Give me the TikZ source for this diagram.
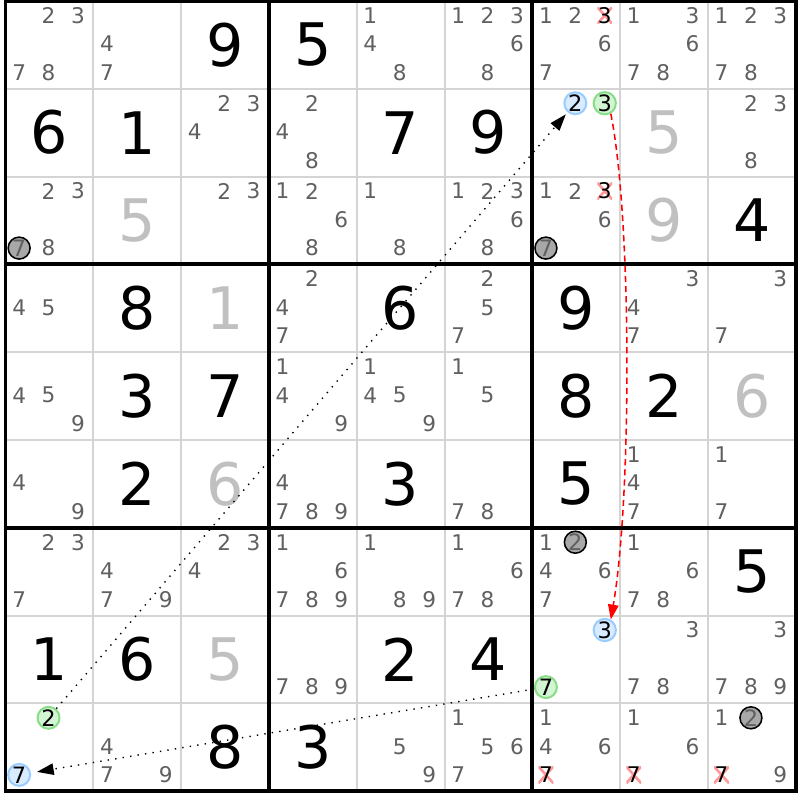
\documentclass[tikz,border=0pt]{standalone}
\usepackage{fontspec}
\setmainfont{DejaVu Sans}
\usetikzlibrary{arrows.meta}
\definecolor{candgray}{HTML}{606060}
\definecolor{placedgray}{HTML}{C0C0C0}
\definecolor{gridgray}{HTML}{D4D4D4}
\definecolor{ringblue}{HTML}{99CCFF}
\definecolor{fillblue}{HTML}{D8EBFF}
\definecolor{ringgreen}{HTML}{88DD88}
\definecolor{fillgreen}{HTML}{D4F5D4}
\definecolor{fillgray}{HTML}{A8A8A8}
\definecolor{crossred}{HTML}{FF9999}
% centre of candidate #3 in row #1, column #2
\newcommand{\candxy}[3]{%
  \pgfmathsetmacro\cx{#2-0.845+0.335*mod(#3-1,3)}%
  \pgfmathsetmacro\cy{9.835-#1-0.325*floor((#3-1)/3)}%
}
\tikzset{
  cand/.style={ % image of a pencil-mark candidate
    inner sep=0pt, text=candgray,
    font=\fontsize{7}{7}\selectfont
  },
  given/.style={ % image of a given digit
    inner sep=0pt, text=black,
    font=\fontsize{19}{19}\selectfont
  },
  placed/.style={given, text=placedgray},
  ring/.style={ % image of a circled candidate
    circle, inner sep=0pt, minimum size=0.25cm,
    line width=0.65pt, font=\fontsize{7.3}{7.3}\selectfont
  },
  bluering/.style={ring, draw=ringblue, fill=fillblue, text=black},
  greenring/.style={ring, draw=ringgreen, fill=fillgreen, text=black},
  grayring/.style={ring, draw=black, fill=fillgray, text=candgray, line width=0.5pt},
  struck/.style={ % image of an eliminated candidate
    cand, text=black, minimum width=0.17cm, minimum height=0.19cm,
    path picture = {
      \draw[crossred, line width=0.85pt]
      (path picture bounding box.north west) --
      (path picture bounding box.south east)
      (path picture bounding box.south west) --
      (path picture bounding box.north east);
    }
  },
  thinline/.style={gridgray, line width=0.65pt},
  thickline/.style={black, line width=1.2pt, line cap=rect},
  weaklink/.style={dotted, line width=0.45pt, shorten >=0.3mm,
    -{Triangle[length=1.9mm,width=1.3mm]}},
  stronglink/.style={red, line width=0.5pt, dash pattern=on 2pt off 1.3pt,
    -{Triangle[length=1.7mm,width=1.2mm]}}
}
\begin{document}
\begin{tikzpicture}
    \fill[white] (-0.063,-0.1) rectangle (9.049,9.011);
    \useasboundingbox (-0.063,-0.1) rectangle (9.049,9.011);

    % grid
    \foreach \i in {1,2,4,5,7,8} {
      \draw[thinline] (\i,0) -- (\i,9);
      \draw[thinline] (0,\i) -- (9,\i);
    }
    \foreach \i in {3,6} {
      \draw[thickline] (\i,0) -- (\i,9);
      \draw[thickline] (0,\i) -- (9,\i);
    }
    \draw[thickline] (0,0) rectangle (9,9);

    % digits
    \foreach \r/\c/\d in {1/3/9, 1/4/5, 2/1/6, 2/2/1, 2/5/7, 2/6/9, 3/9/4,
        4/2/8, 4/5/6, 4/7/9, 5/2/3, 5/3/7, 5/7/8, 5/8/2, 6/2/2, 6/5/3,
        6/7/5, 7/9/5, 8/1/1, 8/2/6, 8/5/2, 8/6/4, 9/3/8, 9/4/3}
      \node[given] (g\r\c) at (\c-0.5,9.5-\r) {\d};
    \foreach \r/\c/\d in {2/8/5, 3/2/5, 3/8/9, 4/3/1, 5/9/6, 6/3/6, 8/3/5}
      \node[placed] (g\r\c) at (\c-0.5,9.5-\r) {\d};

    % candidates
    \foreach \r/\c/\ds in {1/1/{2,3,7,8}, 1/2/{4,7}, 1/5/{1,4,8},
        1/6/{1,2,3,6,8}, 1/7/{1,2,6,7}, 1/8/{1,3,6,7,8}, 1/9/{1,2,3,7,8},
        2/3/{2,3,4}, 2/4/{2,4,8}, 2/9/{2,3,8},
        3/1/{2,3,8}, 3/3/{2,3}, 3/4/{1,2,6,8}, 3/5/{1,8}, 3/6/{1,2,3,6,8},
        3/7/{1,2,6},
        4/1/{4,5}, 4/4/{2,4,7}, 4/6/{2,5,7}, 4/8/{3,4,7}, 4/9/{3,7},
        5/1/{4,5,9}, 5/4/{1,4,9}, 5/5/{1,4,5,9}, 5/6/{1,5},
        6/1/{4,9}, 6/4/{4,7,8,9}, 6/6/{7,8}, 6/8/{1,4,7}, 6/9/{1,7},
        7/1/{2,3,7}, 7/2/{4,7,9}, 7/3/{2,3,4}, 7/4/{1,6,7,8,9}, 7/5/{1,8,9},
        7/6/{1,6,7,8}, 7/7/{1,4,6,7}, 7/8/{1,6,7,8},
        8/4/{7,8,9}, 8/8/{3,7,8}, 8/9/{3,7,8,9},
        9/2/{4,7,9}, 9/5/{5,9}, 9/6/{1,5,6,7}, 9/7/{1,4,6}, 9/8/{1,6},
        9/9/{1,9}}
      \foreach \d in \ds {
        \candxy{\r}{\c}{\d}
        \node[cand] (p\r\c\d) at (\cx,\cy) {\d};
      }

    % eliminated candidates
    \foreach \r/\c/\d in {1/7/3, 3/7/3, 9/7/7, 9/8/7, 9/9/7} {
      \candxy{\r}{\c}{\d}
      \node[struck] (x\r\c\d) at (\cx,\cy) {\d};
    }

    % circled candidates
    \foreach \r/\c/\d in {3/1/7, 3/7/7, 7/7/2, 9/9/2} {
      \candxy{\r}{\c}{\d}
      \node[grayring] (m\r\c\d) at (\cx,\cy) {\d};
    }
    \foreach \r/\c/\d in {2/7/2, 8/7/3, 9/1/7} {
      \candxy{\r}{\c}{\d}
      \node[bluering] (m\r\c\d) at (\cx,\cy) {\d};
    }
    \foreach \r/\c/\d in {2/7/3, 8/7/7, 9/1/2} {
      \candxy{\r}{\c}{\d}
      \node[greenring] (m\r\c\d) at (\cx,\cy) {\d};
    }

    % links
    \draw[weaklink] (m912) -- (m272);
    \draw[stronglink] (m273.-60) .. controls +(0.24,-1.2) and +(0.24,1.4) .. (m873.60);
    \draw[weaklink, shorten >=0.7mm] (m877) -- (m917);
\end{tikzpicture}
\end{document}
